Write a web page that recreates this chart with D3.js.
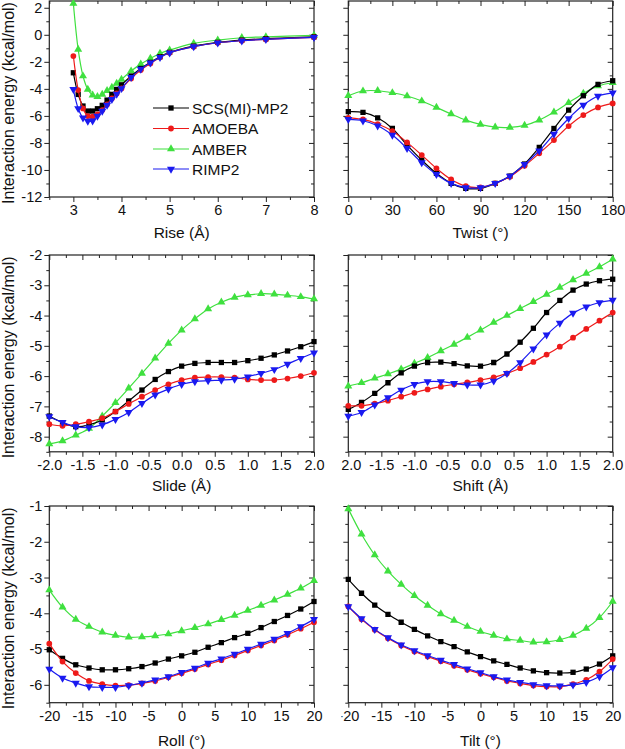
<!DOCTYPE html>
<html><head><meta charset="utf-8">
<script src="https://cdn.jsdelivr.net/npm/d3@7"></script>
<style>body{margin:0;background:#fff}svg{display:block}text{font-family:"Liberation Sans",Arial,sans-serif;fill:#111}</style>
</head><body><svg id="c" width="625" height="749"></svg>
<script>
// ---------------- data ----------------
const seriesNames = ["SCS(MI)-MP2", "AMOEBA", "AMBER", "RIMP2"];

const riseX = [3.0,3.1,3.2,3.3,3.4,3.5,3.6,3.7,3.8,3.9,4.0,4.2,4.4,4.6,4.8,5.0,5.5,6.0,6.5,7.0,8.0];
const riseSCS    = [-2.81,-4.41,-5.27,-5.64,-5.64,-5.47,-5.22,-4.83,-4.41,-4.04,-3.70,-3.05,-2.49,-2.04,-1.62,-1.30,-0.84,-0.56,-0.39,-0.29,-0.15];
const riseAMOEBA = [-1.57,-4.09,-5.45,-6.01,-6.06,-5.89,-5.57,-5.15,-4.71,-4.34,-3.97,-3.23,-2.61,-2.12,-1.67,-1.33,-0.88,-0.59,-0.44,-0.34,-0.19];
const riseAMBER  = [2.32,-1.08,-3.05,-4.04,-4.46,-4.58,-4.41,-4.14,-3.89,-3.60,-3.30,-2.68,-2.17,-1.75,-1.38,-1.13,-0.64,-0.39,-0.22,-0.15,-0.05];
const riseRIMP2  = [-4.04,-5.45,-6.14,-6.38,-6.36,-6.01,-5.64,-5.20,-4.78,-4.39,-3.97,-3.15,-2.54,-2.07,-1.67,-1.33,-0.88,-0.59,-0.44,-0.34,-0.19];

const twistX = [0,10,20,30,40,50,60,70,80,90,100,110,120,130,140,150,160,170,180];
const twistSCS    = [-5.69,-5.74,-6.14,-6.93,-8.16,-9.27,-10.25,-10.99,-11.36,-11.36,-10.99,-10.45,-9.56,-8.33,-6.93,-5.57,-4.51,-3.67,-3.40];
const twistAMOEBA = [-6.14,-6.26,-6.60,-7.12,-7.96,-8.90,-9.88,-10.70,-11.19,-11.29,-10.99,-10.50,-9.69,-8.77,-7.79,-6.75,-5.94,-5.37,-5.08];
const twistAMBER  = [-4.51,-4.16,-4.14,-4.29,-4.53,-4.90,-5.37,-5.86,-6.31,-6.63,-6.83,-6.85,-6.70,-6.31,-5.72,-5.03,-4.34,-3.79,-3.55];
const twistRIMP2  = [-6.26,-6.36,-6.73,-7.42,-8.40,-9.46,-10.33,-10.99,-11.31,-11.31,-10.99,-10.45,-9.59,-8.58,-7.35,-6.19,-5.20,-4.53,-4.29];

const slideX = [-2.0,-1.8,-1.6,-1.4,-1.2,-1.0,-0.8,-0.6,-0.4,-0.2,0.0,0.2,0.4,0.6,0.8,1.0,1.2,1.4,1.6,1.8,2.0];
const slideSCS    = [-7.32,-7.54,-7.67,-7.61,-7.45,-7.17,-6.82,-6.46,-6.11,-5.85,-5.67,-5.58,-5.55,-5.55,-5.55,-5.49,-5.41,-5.30,-5.17,-5.03,-4.86];
const slideAMOEBA = [-7.59,-7.64,-7.59,-7.50,-7.39,-7.17,-6.92,-6.68,-6.46,-6.27,-6.13,-6.05,-6.03,-6.03,-6.05,-6.11,-6.13,-6.13,-6.08,-6.00,-5.89];
const slideAMBER  = [-8.24,-8.14,-7.95,-7.73,-7.32,-6.88,-6.40,-5.91,-5.41,-4.92,-4.48,-4.11,-3.78,-3.56,-3.40,-3.32,-3.28,-3.29,-3.33,-3.38,-3.45];
const slideRIMP2  = [-7.34,-7.53,-7.67,-7.70,-7.61,-7.43,-7.20,-6.90,-6.62,-6.43,-6.27,-6.18,-6.15,-6.13,-6.10,-6.02,-5.91,-5.78,-5.60,-5.41,-5.23];

const shiftX = [-2.0,-1.8,-1.6,-1.4,-1.2,-1.0,-0.8,-0.6,-0.4,-0.2,0.0,0.2,0.4,0.6,0.8,1.0,1.2,1.4,1.6,1.8,2.0];
const shiftSCS    = [-7.10,-6.87,-6.57,-6.22,-5.89,-5.67,-5.55,-5.54,-5.59,-5.66,-5.67,-5.55,-5.27,-4.88,-4.42,-3.90,-3.50,-3.16,-2.96,-2.85,-2.80];
const shiftAMOEBA = [-6.98,-6.98,-6.91,-6.81,-6.68,-6.55,-6.44,-6.35,-6.27,-6.21,-6.13,-6.04,-5.91,-5.74,-5.53,-5.29,-5.03,-4.73,-4.44,-4.17,-3.90];
const shiftAMBER  = [-6.33,-6.22,-6.07,-5.93,-5.77,-5.58,-5.39,-5.17,-4.95,-4.72,-4.48,-4.23,-4.00,-3.77,-3.54,-3.30,-3.07,-2.82,-2.61,-2.39,-2.14];
const shiftRIMP2  = [-7.32,-7.20,-6.95,-6.71,-6.46,-6.27,-6.18,-6.18,-6.24,-6.29,-6.29,-6.16,-5.91,-5.55,-5.10,-4.64,-4.25,-3.92,-3.71,-3.57,-3.49];

const rollX = [-20,-18,-16,-14,-12,-10,-8,-6,-4,-2,0,2,4,6,8,10,12,14,16,18,20];
const rollSCS    = [-5.02,-5.26,-5.44,-5.53,-5.58,-5.58,-5.55,-5.49,-5.39,-5.28,-5.19,-5.09,-4.95,-4.82,-4.68,-4.56,-4.40,-4.23,-4.06,-3.88,-3.67];
const rollAMOEBA = [-4.85,-5.35,-5.67,-5.89,-5.98,-6.02,-6.01,-5.96,-5.89,-5.79,-5.68,-5.56,-5.43,-5.31,-5.18,-5.04,-4.90,-4.76,-4.60,-4.43,-4.25];
const rollAMBER  = [-3.35,-3.83,-4.17,-4.37,-4.53,-4.62,-4.67,-4.66,-4.63,-4.58,-4.49,-4.40,-4.30,-4.18,-4.06,-3.92,-3.78,-3.63,-3.47,-3.30,-3.09];
const rollRIMP2  = [-5.56,-5.81,-5.95,-6.05,-6.07,-6.07,-6.02,-5.95,-5.86,-5.77,-5.65,-5.53,-5.39,-5.27,-5.14,-5.00,-4.86,-4.72,-4.56,-4.37,-4.17];

const tiltX = [-20,-18,-16,-14,-12,-10,-8,-6,-4,-2,0,2,4,6,8,10,12,14,16,18,20];
const tiltSCS    = [-3.05,-3.44,-3.77,-4.03,-4.25,-4.45,-4.63,-4.79,-4.93,-5.08,-5.21,-5.33,-5.43,-5.53,-5.61,-5.66,-5.67,-5.65,-5.56,-5.42,-5.19];
const tiltAMOEBA = [-3.81,-4.17,-4.46,-4.70,-4.90,-5.07,-5.21,-5.34,-5.47,-5.58,-5.69,-5.79,-5.89,-5.96,-6.02,-6.05,-6.05,-5.98,-5.86,-5.63,-5.28];
const tiltAMBER  = [-1.08,-1.79,-2.37,-2.82,-3.19,-3.51,-3.78,-4.02,-4.20,-4.37,-4.51,-4.62,-4.72,-4.76,-4.81,-4.80,-4.74,-4.62,-4.42,-4.12,-3.67];
const tiltRIMP2  = [-3.81,-4.15,-4.45,-4.68,-4.88,-5.04,-5.18,-5.31,-5.43,-5.55,-5.66,-5.77,-5.86,-5.93,-5.99,-6.02,-6.03,-6.00,-5.93,-5.77,-5.52];

const riseTicks  = [3,4,5,6,7,8];
const twistTicks = [0,30,60,90,120,150,180];
const slideTicks = [-2.0,-1.5,-1.0,-0.5,0.0,0.5,1.0,1.5,2.0];
const angleTicks = [-20,-15,-10,-5,0,5,10,15,20];
const topRowYTicks = [2,0,-2,-4,-6,-8,-10,-12];
const midRowYTicks = [-2,-3,-4,-5,-6,-7,-8];
const botRowYTicks = [-1,-2,-3,-4,-5,-6];

const xTitles = ["Rise (Å)", "Twist (°)", "Slide (Å)", "Shift (Å)", "Roll (°)", "Tilt (°)"];
const yTitle = "Interaction energy (kcal/mol)";

// ---------------- style ----------------
const colors = ["#000000", "#ee1a1a", "#3fe03f", "#1a1af0"];
const FONT_TICK = 14.5, FONT_TITLE = 15.5, FONT_YTITLE = 16;

const svg = d3.select("#c");
const fmtInt = v => String(v);
const fmt1 = v => v.toFixed(1);

const cols = [{x0: 49.3, x1: 314}, {x0: 348.3, x1: 612.7}];
const rows = [
  {y0: 1, y1: 197, yd: [-12, 2.5], yt: topRowYTicks, yMinor: 1, titleY: 238},
  {y0: 255, y1: 451.8, yd: [-8.5, -2], yt: midRowYTicks, yMinor: 0.5, titleY: 491},
  {y0: 506, y1: 702.7, yd: [-6.5, -1], yt: botRowYTicks, yMinor: 0.5, titleY: 746}
];

const panels = [
  {r:0,c:0, xd:[2.5,8], xt:riseTicks, xMinor:0.5, fmt:fmtInt, x:riseX, ys:[riseSCS,riseAMOEBA,riseAMBER,riseRIMP2], title:xTitles[0], legend:true},
  {r:0,c:1, xd:[0,180], xt:twistTicks, xMinor:15, fmt:fmtInt, x:twistX, ys:[twistSCS,twistAMOEBA,twistAMBER,twistRIMP2], title:xTitles[1]},
  {r:1,c:0, xd:[-2,2], xt:slideTicks, xMinor:0.25, fmt:fmt1, x:slideX, ys:[slideSCS,slideAMOEBA,slideAMBER,slideRIMP2], title:xTitles[2]},
  {r:1,c:1, xd:[-2,2], xt:slideTicks, xMinor:0.25, fmt:fmt1, x:shiftX, ys:[shiftSCS,shiftAMOEBA,shiftAMBER,shiftRIMP2], title:xTitles[3]},
  {r:2,c:0, xd:[-20,20], xt:angleTicks, xMinor:2.5, fmt:fmtInt, x:rollX, ys:[rollSCS,rollAMOEBA,rollAMBER,rollRIMP2], title:xTitles[4]},
  {r:2,c:1, xd:[-20,20], xt:angleTicks, xMinor:2.5, fmt:fmtInt, x:tiltX, ys:[tiltSCS,tiltAMOEBA,tiltAMBER,tiltRIMP2], title:xTitles[5]}
];

const symbols = [
  d3.symbol().type(d3.symbolSquare).size(28)(),
  d3.symbol().type(d3.symbolCircle).size(26)(),
  d3.symbol().type(d3.symbolTriangle).size(28)(),
  d3.symbol().type(d3.symbolTriangle).size(28)()
];
const symRot = [0, 0, 0, 180];

const defs = svg.append("defs");
defs.append("clipPath").attr("id", "clipRight")
  .append("rect").attr("x", 341.5).attr("y", 0).attr("width", 300).attr("height", 749);

function minorTicks(domain, step, majors) {
  const out = [];
  const s = Math.ceil(domain[0] / step - 1e-9), e = Math.floor(domain[1] / step + 1e-9);
  for (let i = s; i <= e; i++) {
    const v = +(i * step).toFixed(6);
    if (!majors.some(m => Math.abs(m - v) < 1e-6)) out.push(v);
  }
  return out;
}

panels.forEach((p, i) => {
  const col = cols[p.c], row = rows[p.r];
  const g = svg.append("g");
  if (p.c === 1) g.attr("clip-path", "url(#clipRight)");
  const x = d3.scaleLinear().domain(p.xd).range([col.x0, col.x1]);
  const y = d3.scaleLinear().domain(row.yd).range([row.y1, row.y0]);

  const axStyle = sel => {
    sel.select(".domain").remove();
    sel.selectAll("line").attr("stroke", "#222").attr("stroke-width", 1);
    sel.selectAll("text").attr("font-size", FONT_TICK).attr("fill", "#111")
      .attr("font-family", '"Liberation Sans", Arial, sans-serif');
  };
  const xMin = minorTicks(p.xd, p.xMinor, p.xt);
  const yMin = minorTicks(row.yd, row.yMinor, row.yt);

  // bottom
  g.append("g").attr("transform", `translate(0,${row.y1})`)
    .call(d3.axisBottom(x).tickValues(p.xt).tickFormat(p.fmt).tickSize(5).tickPadding(3).tickSizeOuter(0)).call(axStyle);
  g.append("g").attr("transform", `translate(0,${row.y1})`)
    .call(d3.axisBottom(x).tickValues(xMin).tickFormat("").tickSize(3).tickSizeOuter(0)).call(axStyle);
  // top (inward)
  g.append("g").attr("transform", `translate(0,${row.y0})`)
    .call(d3.axisTop(x).tickValues(p.xt).tickFormat("").tickSize(-5).tickSizeOuter(0)).call(axStyle);
  g.append("g").attr("transform", `translate(0,${row.y0})`)
    .call(d3.axisTop(x).tickValues(xMin).tickFormat("").tickSize(-3).tickSizeOuter(0)).call(axStyle);
  // left
  g.append("g").attr("transform", `translate(${col.x0},0)`)
    .call(d3.axisLeft(y).tickValues(row.yt).tickFormat(p.c === 0 ? fmtInt : "").tickSize(5).tickPadding(2).tickSizeOuter(0)).call(axStyle);
  g.append("g").attr("transform", `translate(${col.x0},0)`)
    .call(d3.axisLeft(y).tickValues(yMin).tickFormat("").tickSize(3).tickSizeOuter(0)).call(axStyle);
  // right (inward)
  g.append("g").attr("transform", `translate(${col.x1},0)`)
    .call(d3.axisRight(y).tickValues(row.yt).tickFormat("").tickSize(-5).tickSizeOuter(0)).call(axStyle);
  g.append("g").attr("transform", `translate(${col.x1},0)`)
    .call(d3.axisRight(y).tickValues(yMin).tickFormat("").tickSize(-3).tickSizeOuter(0)).call(axStyle);

  g.append("rect").attr("x", col.x0).attr("y", row.y0)
    .attr("width", col.x1 - col.x0).attr("height", row.y1 - row.y0)
    .attr("fill", "none").attr("stroke", "#222").attr("stroke-width", 1.2);

  const line = d3.line().x((d) => x(d[0])).y(d => y(d[1])).curve(d3.curveCatmullRom.alpha(0.5));
  const order = [2, 0, 1, 3];
  order.forEach(k => {
    const pts = p.x.map((xv, j) => [xv, p.ys[k][j]]);
    g.append("path").attr("d", line(pts)).attr("fill", "none")
      .attr("stroke", colors[k]).attr("stroke-width", 1.2);
    g.selectAll(null).data(pts).enter().append("path")
      .attr("d", symbols[k])
      .attr("transform", d => `translate(${x(d[0])},${y(d[1])}) rotate(${symRot[k]})`)
      .attr("fill", colors[k]);
  });

  // x title
  svg.append("text").attr("x", (col.x0 + col.x1) / 2).attr("y", row.titleY)
    .attr("text-anchor", "middle").attr("font-size", FONT_TITLE).text(p.title);

  // y title
  if (p.c === 0) {
    svg.append("text").attr("transform", `translate(14,${(row.y0 + row.y1) / 2 + 4}) rotate(-90)`)
      .attr("text-anchor", "middle").attr("font-size", FONT_YTITLE).text(yTitle);
  }

  if (p.legend) {
    const lg = svg.append("g");
    const rowsY = [108, 128.5, 149, 169];
    seriesNames.forEach((name, k) => {
      lg.append("line").attr("x1", 153).attr("x2", 189).attr("y1", rowsY[k]).attr("y2", rowsY[k])
        .attr("stroke", colors[k]).attr("stroke-width", 1.2);
      lg.append("path").attr("d", symbols[k])
        .attr("transform", `translate(171,${rowsY[k]}) rotate(${symRot[k]})`).attr("fill", colors[k]);
      lg.append("text").attr("x", 192).attr("y", rowsY[k] + 5.5).attr("font-size", FONT_TITLE).text(name);
    });
  }
});
</script>
</body></html>
